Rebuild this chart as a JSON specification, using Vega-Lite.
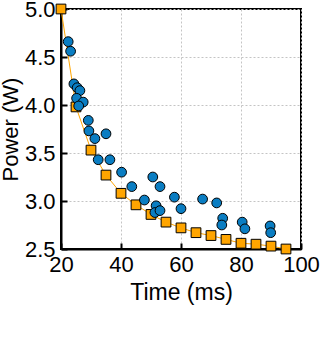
{
  "$schema": "https://vega.github.io/schema/vega-lite/v6.json",
  "width": 240,
  "height": 240,
  "autosize": {"type": "none"},
  "padding": {"left": 61, "top": 9, "right": 19, "bottom": 99},
  "background": "white",
  "config": {
    "view": {"stroke": "black", "strokeWidth": 2},
    "font": "Liberation Sans",
    "axis": {
      "labelFont": "Liberation Sans",
      "titleFont": "Liberation Sans",
      "labelFontSize": 22,
      "titleFontSize": 23,
      "titleFontWeight": "normal",
      "labelColor": "black",
      "titleColor": "black",
      "domainColor": "black",
      "domainWidth": 2,
      "tickColor": "black",
      "tickWidth": 2,
      "tickSize": -6,
      "grid": true,
      "gridColor": "#c4c4c4",
      "gridDash": [2, 2],
      "gridWidth": 1
    }
  },
  "datasets": {
    "model": [
      {"t": 20, "p": 5.0}, {"t": 25, "p": 3.98}, {"t": 30, "p": 3.53}, {"t": 35, "p": 3.27},
      {"t": 40, "p": 3.08}, {"t": 45, "p": 2.96}, {"t": 50, "p": 2.86}, {"t": 55, "p": 2.78},
      {"t": 60, "p": 2.72}, {"t": 65, "p": 2.67}, {"t": 70, "p": 2.64}, {"t": 75, "p": 2.6},
      {"t": 80, "p": 2.56}, {"t": 85, "p": 2.55}, {"t": 90, "p": 2.53}, {"t": 95, "p": 2.5}
    ],
    "measured": [
      {"t": 22.4, "p": 4.66}, {"t": 23.2, "p": 4.56}, {"t": 24.3, "p": 4.22}, {"t": 25.4, "p": 4.18},
      {"t": 26.3, "p": 4.15}, {"t": 25.2, "p": 4.07}, {"t": 27.4, "p": 4.03}, {"t": 25.9, "p": 3.99},
      {"t": 29.1, "p": 3.84}, {"t": 29.3, "p": 3.73}, {"t": 31.3, "p": 3.65}, {"t": 35.0, "p": 3.7},
      {"t": 32.4, "p": 3.43}, {"t": 36.3, "p": 3.43}, {"t": 40.2, "p": 3.3}, {"t": 43.6, "p": 3.15},
      {"t": 47.8, "p": 3.01}, {"t": 50.6, "p": 3.25}, {"t": 53.0, "p": 3.15}, {"t": 51.7, "p": 2.95},
      {"t": 51.3, "p": 2.88}, {"t": 53.0, "p": 2.9}, {"t": 57.8, "p": 3.04}, {"t": 60.0, "p": 2.92},
      {"t": 67.2, "p": 3.02}, {"t": 71.9, "p": 2.98}, {"t": 73.9, "p": 2.82}, {"t": 73.6, "p": 2.75},
      {"t": 80.4, "p": 2.78}, {"t": 81.3, "p": 2.71}, {"t": 89.7, "p": 2.74}, {"t": 89.9, "p": 2.67}
    ]
  },
  "encoding": {
    "x": {
      "field": "t", "type": "quantitative",
      "scale": {"domain": [20, 100], "nice": false, "zero": false},
      "axis": {"title": "Time (ms)", "values": [20, 40, 60, 80, 100], "labelPadding": 11, "titlePadding": 6, "labelFlush": false}
    },
    "y": {
      "field": "p", "type": "quantitative",
      "scale": {"domain": [2.5, 5.0], "nice": false, "zero": false},
      "axis": {"title": "Power (W)", "titleFontSize": 22, "values": [2.5, 3.0, 3.5, 4.0, 4.5, 5.0], "format": ".1f", "labelPadding": 12, "titlePadding": 2, "labelFlush": false}
    }
  },
  "layer": [
    {"data": {"name": "model"}, "mark": {"type": "line", "color": "#FFA500", "strokeWidth": 1}},
    {"data": {"name": "model"}, "mark": {"type": "square", "size": 95, "filled": true, "color": "#FFA500", "stroke": "black", "strokeWidth": 1, "opacity": 1}},
    {"data": {"name": "measured"}, "mark": {"type": "circle", "size": 95, "color": "#0A7DC2", "stroke": "black", "strokeWidth": 1, "opacity": 1}}
  ]
}
